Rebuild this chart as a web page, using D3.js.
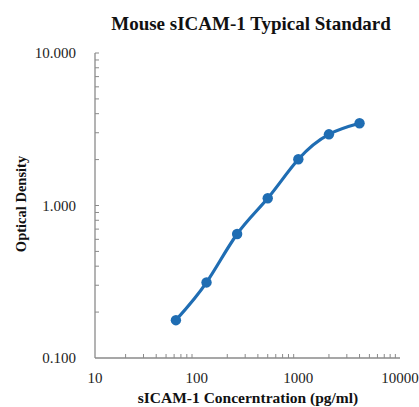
<!DOCTYPE html>
<html><head><meta charset="utf-8">
<script src="https://cdn.jsdelivr.net/npm/d3@7"></script>
<style>body{margin:0;background:#fff}svg{display:block}</style>
</head><body>
<script>
const concentrations = [62.5, 125, 250, 500, 1000, 2000, 4000];
const odValues = [0.177, 0.313, 0.650, 1.115, 2.01, 2.93, 3.46];
const xTickValues = [10, 100, 1000, 10000];
const yTickValues = [0.1, 1, 10];
const yTickLabels = ["0.100", "1.000", "10.000"];

const W = 419, H = 407;
const svg = d3.select("body").append("svg").attr("width", W).attr("height", H);
const pLeft = 95, pRight = 400, pTop = 53, pBottom = 358;
const x = d3.scaleLog().domain([10, 10000]).range([pLeft, pRight]);
const y = d3.scaleLog().domain([0.1, 10]).range([pBottom, pTop]);
const font = "'Liberation Serif', 'Times New Roman', serif";
const axisColor = "#8a8a8a";

// minor ticks
const minorX = [];
for (let d = 10; d < 10000; d *= 10) for (let k = 2; k <= 9; k++) minorX.push(d * k);
const minorY = [];
for (let d = 0.1; d < 9; d *= 10) for (let k = 2; k <= 10; k++) minorY.push(+(d * k).toFixed(3));

svg.append("g").selectAll("line").data(minorX).join("line")
  .attr("x1", d => x(d)).attr("x2", d => x(d)).attr("y1", pBottom).attr("y2", pBottom - 4)
  .attr("stroke", axisColor).attr("stroke-width", 1);
svg.append("g").selectAll("line").data(minorY).join("line")
  .attr("y1", d => y(d)).attr("y2", d => y(d)).attr("x1", pLeft).attr("x2", pLeft + 4)
  .attr("stroke", axisColor).attr("stroke-width", 1);

// axes lines
svg.append("line").attr("x1", pLeft).attr("x2", pRight).attr("y1", pBottom).attr("y2", pBottom)
  .attr("stroke", axisColor).attr("stroke-width", 1.3);
svg.append("line").attr("x1", pLeft).attr("x2", pLeft).attr("y1", pTop).attr("y2", pBottom)
  .attr("stroke", axisColor).attr("stroke-width", 1.3);

// tick labels
svg.append("g").selectAll("text").data(xTickValues).join("text")
  .attr("x", d => x(d)).attr("y", 383).attr("text-anchor", "middle")
  .attr("font-family", font).attr("font-size", 15).attr("fill", "#222")
  .text(d => d);
svg.append("g").selectAll("text").data(yTickValues).join("text")
  .attr("x", 76).attr("y", d => y(d) + 5).attr("text-anchor", "end")
  .attr("font-family", font).attr("font-size", 15).attr("fill", "#222")
  .text((d, i) => yTickLabels[i]);

// titles
svg.append("text").attr("x", 251).attr("y", 30).attr("text-anchor", "middle")
  .attr("font-family", font).attr("font-weight", "bold").attr("font-size", 19).attr("fill", "#111")
  .text("Mouse sICAM-1 Typical Standard");
svg.append("text").attr("x", 248).attr("y", 403).attr("text-anchor", "middle")
  .attr("font-family", font).attr("font-weight", "bold").attr("font-size", 15.5).attr("fill", "#111")
  .text("sICAM-1 Concerntration (pg/ml)");
svg.append("text").attr("transform", "translate(26,204) rotate(-90)").attr("text-anchor", "middle")
  .attr("font-family", font).attr("font-weight", "bold").attr("font-size", 14.5).attr("fill", "#111")
  .text("Optical Density");

// curve and points
const color = "#1f6db3";
const data = concentrations.map((c, i) => ({c, v: odValues[i]}));
svg.append("path").datum(data)
  .attr("d", d3.line().x(d => x(d.c)).y(d => y(d.v)).curve(d3.curveNatural))
  .attr("fill", "none").attr("stroke", color).attr("stroke-width", 3.2).attr("stroke-linecap", "round");
svg.append("g").selectAll("circle").data(data).join("circle")
  .attr("cx", d => x(d.c)).attr("cy", d => y(d.v)).attr("r", 5.2).attr("fill", color);
</script>
</body></html>
